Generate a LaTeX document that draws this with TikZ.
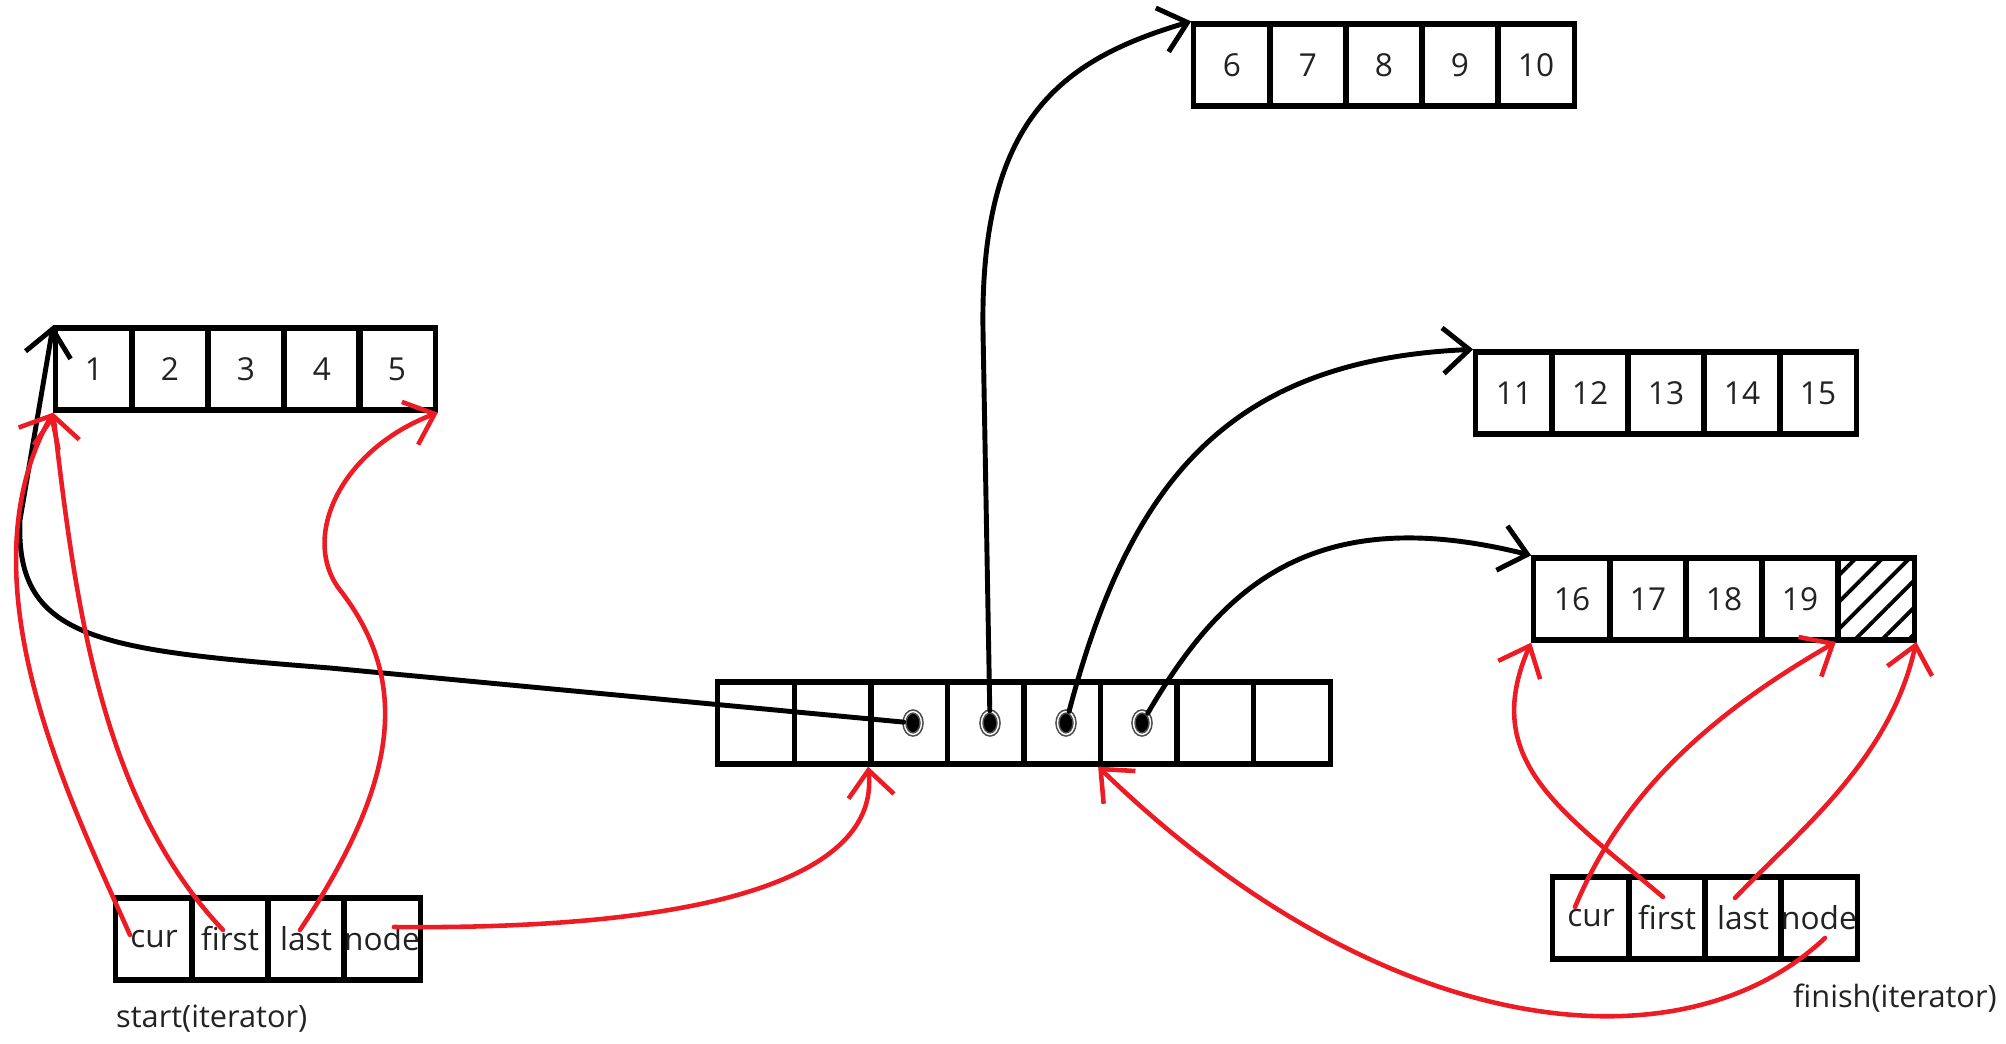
\documentclass[tikz,border=0pt]{standalone}
\usepackage{fontspec}
\setmainfont{Open Sans}
\usepackage{tikz}
\usetikzlibrary{arrows.meta, calc, shapes.geometric, patterns.meta}
\definecolor{penred}{HTML}{ED1C24}
\definecolor{inkgray}{HTML}{222222}

\begin{document}
\begin{tikzpicture}[x=0.02cm, y=-0.02cm,
  cell/.style={draw, line width=3pt, minimum width=1.53cm, minimum height=1.64cm, inner sep=0pt, text=inkgray, font=\fontsize{18}{21}\selectfont},
  pdot/.style={ellipse, fill=black, draw=black!70, double=white, double distance=0.8pt, line width=0.9pt, inner sep=0pt, minimum width=0.34cm, minimum height=0.46cm},
  lbl/.style={anchor=west, text=inkgray, font=\fontsize{17.5}{21}\selectfont},
  blackline/.style={line width=2.8pt, line cap=round, -{Straight Barb[length=15pt, width=26pt]}},
  redline/.style={blackline, draw=penred, line width=2.6pt}]
\useasboundingbox (0,0) rectangle (2006,1044);
\node[cell] (a1) at (94,369) {1}; \node[cell] (a2) at (170,369) {2}; \node[cell] (a3) at (246,369) {3}; \node[cell] (a4) at (322,369) {4}; \node[cell] (a5) at (397,369) {5};
\node[cell] (b1) at (1232,65) {6}; \node[cell] (b2) at (1308,65) {7}; \node[cell] (b3) at (1384,65) {8}; \node[cell] (b4) at (1460,65) {9}; \node[cell] (b5) at (1536,65) {10};
\node[cell] (c1) at (1514,393) {11}; \node[cell] (c2) at (1590,393) {12}; \node[cell] (c3) at (1666,393) {13}; \node[cell] (c4) at (1742,393) {14}; \node[cell] (c5) at (1818,393) {15};
\node[cell] (d1) at (1572,599) {16}; \node[cell] (d2) at (1648,599) {17}; \node[cell] (d3) at (1724,599) {18}; \node[cell] (d4) at (1800,599) {19};
\node[cell, pattern={Lines[angle=45, distance=0.38cm, line width=2.2pt]}] (d5) at (1876,599) {};
\node[cell] (m1) at (756,723) {}; \node[cell] (m2) at (833,723) {}; \node[cell] (m3) at (909,723) {}; \node[cell] (m4) at (986,723) {};
\node[cell] (m5) at (1062,723) {}; \node[cell] (m6) at (1139,723) {}; \node[cell] (m7) at (1215,723) {}; \node[cell] (m8) at (1292,723) {};
\node[pdot] (p3) at (913,723) {}; \node[pdot] (p4) at (990,723) {}; \node[pdot] (p5) at (1066,723) {}; \node[pdot] (p6) at (1142,723) {};
\node[cell] (s1) at (154,939) {cur}; \node[cell] (s2) at (230,939) {first}; \node[cell] (s3) at (306,939) {last}; \node[cell] (s4) at (382,939) {node};
\node[cell] (f1) at (1591,918) {cur}; \node[cell] (f2) at (1667,918) {first}; \node[cell] (f3) at (1743,918) {last}; \node[cell] (f4) at (1819,918) {node};
\node[lbl] (slabel) at (110,1019) {start(iterator)};
\node[lbl] (flabel) at (1787,998) {finish(iterator)};
\draw[blackline] (p3) -- (330,668) .. controls (100,650) and (15,640) .. (20,520) -- (a1.north west);
\draw[blackline] (p4) -- (983,330) .. controls (980,120) and (1060,60) .. (b1.north west);
\draw[blackline] (p5) .. controls (1130,480) and (1230,360) .. (c1.north west);
\draw[blackline] (p6) .. controls (1220,590) and (1310,500) .. (d1.north west);
\draw[redline] ($(s1)+(-24,-4)$) .. controls (70,800) and (-40,580) .. (a1.south west);
\draw[redline] ($(s2)+(-7,-9)$) .. controls (100,800) and (75,600) .. (a1.south west);
\draw[redline] ($(s3)+(-6,-9)$) .. controls (400,780) and (410,680) .. (340,590) .. controls (300,538) and (340,450) .. (a5.south east);
\draw[redline] ($(s4)+(12,-12)$) .. controls (700,930) and (880,880) .. (m3.south west);
\draw[redline] ($(f1)+(-16,-11)$) .. controls (1620,800) and (1700,720) .. (d5.south west);
\draw[redline] ($(f2)+(-4,-21)$) .. controls (1560,810) and (1480,760) .. (d1.south west);
\draw[redline] ($(f3)+(-8,-20)$) .. controls (1800,830) and (1890,760) .. (d5.south east);
\draw[redline] ($(f4)+(6,20)$) .. controls (1680,1075) and (1380,1040) .. (m6.south west);
\end{tikzpicture}
\end{document}
